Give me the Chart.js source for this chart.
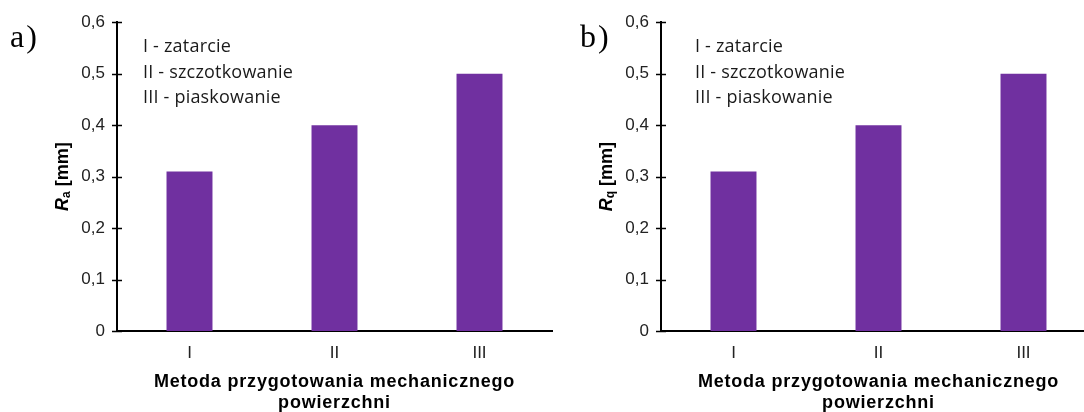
<!DOCTYPE html>
<html>
<head>
<meta charset="utf-8">
<script src="https://cdn.jsdelivr.net/npm/chart.js@4.4.1/dist/chart.umd.min.js"></script>
<style>
  html, body { margin: 0; padding: 0; background: #fff; }
  body { width: 1084px; height: 412px; overflow: hidden; position: relative; }
  canvas { position: absolute; top: 0; }
  #chartA { left: 0; }
  #chartB { left: 544px; }
</style>
</head>
<body>
<canvas id="chartA" width="560" height="412"></canvas>
<canvas id="chartB" width="560" height="412"></canvas>
<script>
// dane
const categories = ['I', 'II', 'III'];
const raValues = [0.31, 0.40, 0.50];
const rqValues = [0.31, 0.40, 0.50];
const legendLines = ['I - zatarcie', 'II - szczotkowanie', 'III - piaskowanie'];
const xTitleLines = ['Metoda przygotowania mechanicznego', 'powierzchni'];

const BAR_COLOR = '#7030A0';
const TEXT_COLOR = '#222';

const fmtTick = v => (v === 0 ? '0' : v.toFixed(1).replace('.', ','));

// rysuje to, czego Chart.js nie umie: krzyzujace sie znaczniki, R z indeksem, opisy
const decorPlugin = {
  id: 'decor',
  afterDraw(chart, args, opts) {
    const { ctx, chartArea, scales: { y } } = chart;
    ctx.save();

    // znaczniki osi Y przechodzace przez os
    ctx.strokeStyle = '#000';
    ctx.lineWidth = 1.5;
    y.ticks.forEach((t, i) => {
      const py = Math.round(y.getPixelForTick(i)) + 0.5;
      ctx.beginPath();
      ctx.moveTo(chartArea.left - 5, py);
      ctx.lineTo(chartArea.left + 5, py);
      ctx.stroke();
    });

    // litera panelu
    ctx.fillStyle = '#000';
    ctx.textBaseline = 'alphabetic';
    ctx.textAlign = 'left';
    ctx.font = '32px "Liberation Serif"';
    ctx.letterSpacing = '2px';
    ctx.fillText(opts.letter, opts.letterX, opts.letterY);

    // opis metod
    ctx.fillStyle = '#1a1a1a';
    ctx.font = '18px "Open Sans"';
    ctx.letterSpacing = '0.2px';
    ctx.textBaseline = 'middle';
    legendLines.forEach((s, i) => ctx.fillText(s, opts.noteX, 47 + i * 25.5));
    ctx.letterSpacing = '0px';

    // tytul osi Y: R z indeksem
    ctx.save();
    ctx.translate(68, (chartArea.top + chartArea.bottom) / 2);
    ctx.rotate(-Math.PI / 2);
    ctx.fillStyle = '#000';
    ctx.textBaseline = 'alphabetic';
    const fR = 'italic bold 18px "Liberation Sans"';
    const fSub = 'bold 12px "Liberation Sans"';
    const fRest = 'bold 18px "Liberation Sans"';
    ctx.font = fR; const wR = ctx.measureText('R').width;
    ctx.font = fSub; const wS = ctx.measureText(opts.sub).width;
    ctx.font = fRest; const wRest = ctx.measureText(' [mm]').width;
    let x0 = -(wR + wS + wRest) / 2;
    ctx.font = fR; ctx.fillText('R', x0, 0); x0 += wR;
    ctx.font = fSub; ctx.fillText(opts.sub, x0, 2); x0 += wS;
    ctx.font = fRest; ctx.fillText(' [mm]', x0, 0);
    ctx.restore();

    // tytul osi X
    ctx.fillStyle = '#000';
    ctx.textAlign = 'center';
    ctx.textBaseline = 'middle';
    ctx.font = 'bold 18px "Liberation Sans"';
    ctx.letterSpacing = '0.8px';
    const cx = (chartArea.left + chartArea.right) / 2;
    xTitleLines.forEach((s, i) => ctx.fillText(s, cx, 382 + i * 21));
    ctx.letterSpacing = '0px';

    ctx.restore();
  }
};

function makeChart(canvasId, values, letter, letterX, sub, noteX) {
  const ctx = document.getElementById(canvasId).getContext('2d');
  return new Chart(ctx, {
    type: 'bar',
    data: {
      labels: categories,
      datasets: [{
        data: values,
        backgroundColor: BAR_COLOR,
        borderWidth: 0,
        barPercentage: 0.317,
        categoryPercentage: 1
      }]
    },
    options: {
      responsive: false,
      animation: false,
      layout: { padding: { top: 21, right: 8, left: 0, bottom: 0 } },
      scales: {
        x: {
          grid: { display: false, drawTicks: false },
          border: { display: true, color: '#000', width: 2 },
          ticks: { color: TEXT_COLOR, font: { family: 'Liberation Sans', size: 17 }, padding: 12 },
          afterFit: s => { s.height = 81; }
        },
        y: {
          min: 0,
          max: 0.6,
          grid: { display: false, drawTicks: false },
          border: { display: true, color: '#000', width: 2 },
          ticks: {
            stepSize: 0.1,
            color: TEXT_COLOR,
            font: { family: 'Liberation Sans', size: 17 },
            padding: 12,
            callback: v => fmtTick(v)
          },
          afterFit: s => { s.width = 117; }
        }
      },
      plugins: {
        legend: { display: false },
        tooltip: { enabled: false },
        decor: { letter, letterX, letterY: 47, sub, noteX }
      }
    },
    plugins: [decorPlugin]
  });
}

makeChart('chartA', raValues, 'a)', 10, 'a', 143);
makeChart('chartB', rqValues, 'b)', 36, 'q', 151);
</script>
</body>
</html>
